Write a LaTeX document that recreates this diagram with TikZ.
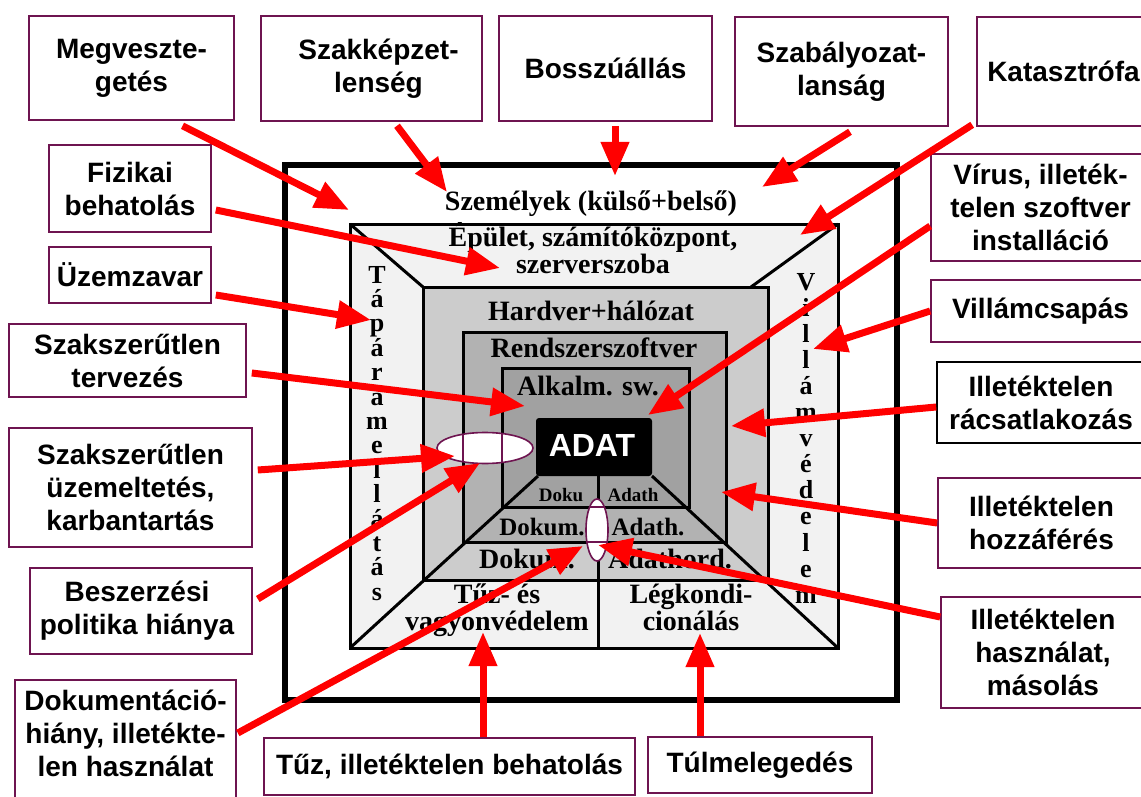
\documentclass[tikz,border=0pt]{standalone}
\usepackage{fontspec}
\setmainfont{Liberation Serif}
\setsansfont{Liberation Sans}
\usetikzlibrary{arrows.meta}
\definecolor{boxpurple}{RGB}{110,20,80}
\definecolor{ringA}{gray}{0.95}
\definecolor{ringB}{gray}{0.80}
\definecolor{ringC}{gray}{0.70}
\definecolor{ringD}{gray}{0.63}
\begin{document}
\begin{tikzpicture}[x=1pt,y=-1pt,
  lbl/.style={draw=boxpurple, line width=1.6pt, fill=white, align=center, inner sep=0pt,
    font=\sffamily\bfseries\fontsize{28}{33}\selectfont},
  lbltext/.style={align=center, inner sep=0pt, font=\sffamily\bfseries\fontsize{28}{33}\selectfont},
  threat/.style={draw=red, line width=7pt, -{Triangle[length=34pt,width=27pt]}},
  wall/.style={draw=black, line width=3pt},
  ser/.style={font=\bfseries\fontsize{28}{28}\selectfont, anchor=base, inner sep=0pt},
  vert/.style={font=\bfseries\fontsize{26}{26}\selectfont, anchor=base, inner sep=0pt},
  sermid/.style={font=\bfseries\fontsize{25}{25}\selectfont, anchor=base, inner sep=0pt},
  sersmall/.style={font=\bfseries\fontsize{19}{19}\selectfont, anchor=base, inner sep=0pt},
  hole/.style={draw=boxpurple, line width=1.6pt},
]
\useasboundingbox (0,0) rectangle (1141,797);
\fill[white] (0,0) rectangle (1141,797);

% ---- structure ----
\draw[line width=6pt] (285,165) rectangle (897,700);
\draw[wall, fill=ringA] (350,224) rectangle (838,648);
\draw[wall] (350,224) -- (423,287);
\draw[wall] (838,224) -- (751,287);
\draw[wall, fill=ringB] (423,287) rectangle (768,580);
\draw[wall, fill=ringC] (463,332) rectangle (726,542);
\draw[wall, fill=ringD] (502,368) rectangle (689,507);
\draw[wall] (538,476) -- (350,648);
\draw[wall] (652,476) -- (838,648);
\draw[wall] (598,476) -- (598,648);
\node[fill=black, rounded corners=3pt, minimum width=116pt, minimum height=58pt, inner sep=0pt] (adat) at (594,447) {};
\node[anchor=base, inner sep=0pt, text=white, font=\sffamily\bfseries\fontsize{32}{32}\selectfont] (adattxt) at (592,456) {ADAT};

% texts of the rings
\node[ser] (szem) at (591,211) {Személyek (külső+belső)};
\node[ser, align=center, font=\bfseries\fontsize{28}{23}\selectfont] (epul) at (593,273) {Épület, számítóközpont,\\szerverszoba};
\node[ser] (hard) at (591,320) {Hardver+hálózat};
\node[ser] (rend) at (594,357) {Rendszerszoftver};
\node[ser] (alk) at (588,395) {Alkalm. sw.};
\node[sersmall] (doku1) at (561,501) {Doku};
\node[sersmall] (adath1) at (633,501) {Adath};
\node[sermid] (doku2) at (542,535) {Dokum.};
\node[sermid] (adath2) at (648,535) {Adath.};
\node[ser] (doku3) at (527,568) {Dokum.};
\node[ser] (adath3) at (670,568) {Adathord.};
\node[ser] (tuz1) at (497,603) {Tűz- és};
\node[ser] (tuz2) at (497,630) {vagyonvédelem};
\node[ser] (leg1) at (691,603) {Légkondi-};
\node[ser] (leg2) at (691,630) {cionálás};
\foreach \ch [count=\i from 0] in {T,á,p,á,r,a,m,e,l,l,á,t,á,s}
  \node[vert, name=tap\i] at (377,{283+\i*24.4}) {\ch};
\foreach \ch [count=\i from 0] in {V,i,l,l,á,m,v,é,d,e,l,e,m}
  \node[vert, name=vil\i] at (806,{290+\i*26.1}) {\ch};

% holes (ellipses)
\fill[white] (485,448) ellipse (48pt and 15.5pt);
\begin{scope}
  \clip (485,448) ellipse (48pt and 15.5pt);
  \draw[hole] (463,420) -- (463,480) (502,420) -- (502,480);
\end{scope}
\draw[hole] (485,448) ellipse (48pt and 15.5pt);
\fill[white] (597,530) ellipse (11pt and 31pt);
\begin{scope}
  \clip (597,530) ellipse (11pt and 31pt);
  \draw[hole] (580,507) -- (615,507) (580,542) -- (615,542);
\end{scope}
\draw[hole] (597,530) ellipse (11pt and 31pt);

% ---- tip coordinates ----
\coordinate (pMegv) at (349,210);
\coordinate (pSzakk) at (447,192);
\coordinate (pBossz) at (615,176);
\coordinate (pSzab) at (762,187);
\coordinate (pKat) at (800,235);
\coordinate (pVirus) at (648,415);
\coordinate (pVillam) at (813,349);
\coordinate (pRacs) at (731,426);
\coordinate (pHozza) at (721,492);
\coordinate (pHaszn) at (598,545);
\coordinate (pFiz) at (500,268);
\coordinate (pUzem) at (371,320);
\coordinate (pTervez) at (525,406);
\coordinate (pUzemelt) at (455,456);
\coordinate (pBesz) at (480,463);
\coordinate (pDok) at (583,546);
\coordinate (pTuz) at (483,632);
\coordinate (pTulm) at (700,633);

% ---- label boxes ----
\path
  (131.5,68) node[lbl, minimum width=205pt, minimum height=104pt] (megv) {Megveszte-\\getés}
  (371.5,68.5) node[lbl, minimum width=221pt, minimum height=105pt] (szakk) {\hspace*{14pt}Szakképzet-\\\hspace*{14pt}lenség}
  (605.5,68.5) node[lbl, minimum width=213pt, minimum height=105pt] (bossz) {Bosszúállás}
  (841.5,71.5) node[lbl, minimum width=213pt, minimum height=109pt] (szab) {Szabályozat-\\lanság}
  (1063.5,71.5) node[lbl, minimum width=173pt, minimum height=109pt] (kat) {Katasztrófa}
  (130,188.5) node[lbl, minimum width=162pt, minimum height=87pt] (fiz) {Fizikai\\behatolás}
  (130,275) node[lbl, minimum width=162pt, minimum height=56pt] (uzem) {Üzemzavar}
  (127.5,360.5) node[lbl, minimum width=237pt, minimum height=73pt] (tervez) {Szakszerűtlen\\tervezés}
  (130.5,487.5) node[lbl, minimum width=243pt, minimum height=119pt] (uzemelt) {Szakszerűtlen\\üzemeltetés,\\karbantartás}
  (141,611) node[lbl, minimum width=222pt, minimum height=86pt] (besz) {\hspace*{-8pt}Beszerzési\\\hspace*{-8pt}politika hiánya}
  (125.5,742.5) node[lbl, minimum width=221pt, minimum height=125pt] (dok) {}
  (449.5,766.5) node[lbl, minimum width=371pt, minimum height=57pt] (tuz) {Tűz, illetéktelen behatolás}
  (760,765) node[lbl, minimum width=224pt, minimum height=56pt] (tulm) {Túlmelegedés}
  (1040.5,207.5) node[lbl, minimum width=219pt, minimum height=107pt] (virus) {Vírus, illeték-\\telen szoftver\\installáció}
  (1040.5,311) node[lbl, minimum width=219pt, minimum height=62pt] (villam) {Villámcsapás}
  (1041,402.5) node[lbl, draw=black, minimum width=208pt, minimum height=81pt] (racs) {Illetéktelen\\rácsatlakozás}
  (1041.5,523) node[lbl, minimum width=207pt, minimum height=90pt] (hozza) {Illetéktelen\\hozzáférés}
  (1043,652.5) node[lbl, minimum width=204pt, minimum height=111pt] (haszn) {Illetéktelen\\használat,\\másolás};

% ---- threats (arrows) ----
\draw[threat] ([xshift=51pt,yshift=-5pt]megv.south) -- (pMegv);
\draw[threat] ([xshift=25.5pt,yshift=-4pt]szakk.south) -- (pSzakk);
\draw[threat] ([xshift=9.5pt,yshift=-4pt]bossz.south) -- (pBossz);
\draw[threat] ([xshift=8.5pt,yshift=-5pt]szab.south) -- (pSzab);
\draw[threat] ([xshift=-4pt,yshift=2pt]kat.south west) -- (pKat);
\draw[threat] ([yshift=-18.5pt]virus.west) -- (pVirus);
\draw[threat] (villam.west) -- (pVillam);
\draw[threat] ([yshift=-4.5pt]racs.west) -- (pRacs);
\draw[threat] (hozza.west) -- (pHozza);
\draw[threat] ([yshift=35.5pt]haszn.west) -- (pHaszn);
\draw[threat] ([xshift=4pt,yshift=-21.5pt]fiz.east) -- (pFiz);
\draw[threat] ([xshift=4pt,yshift=-20pt]uzem.east) -- (pUzem);
\draw[threat] ([xshift=5pt,yshift=-12.5pt]tervez.east) -- (pTervez);
\draw[threat] ([xshift=5pt,yshift=17.5pt]uzemelt.east) -- (pUzemelt);
\draw[threat] ([xshift=5pt,yshift=12pt]besz.east) -- (pBesz);
\draw[threat] ([xshift=1pt,yshift=9.5pt]dok.east) -- (pDok);
\draw[threat] ([xshift=33.5pt]tuz.north) -- (pTuz);
\draw[threat] ([xshift=-60pt]tulm.north) -- (pTulm);

\node[lbltext] (doktxt) at (125.5,733) {Dokumentáció-\\hiány, illetékte-\\len használat};
\end{tikzpicture}
\end{document}
